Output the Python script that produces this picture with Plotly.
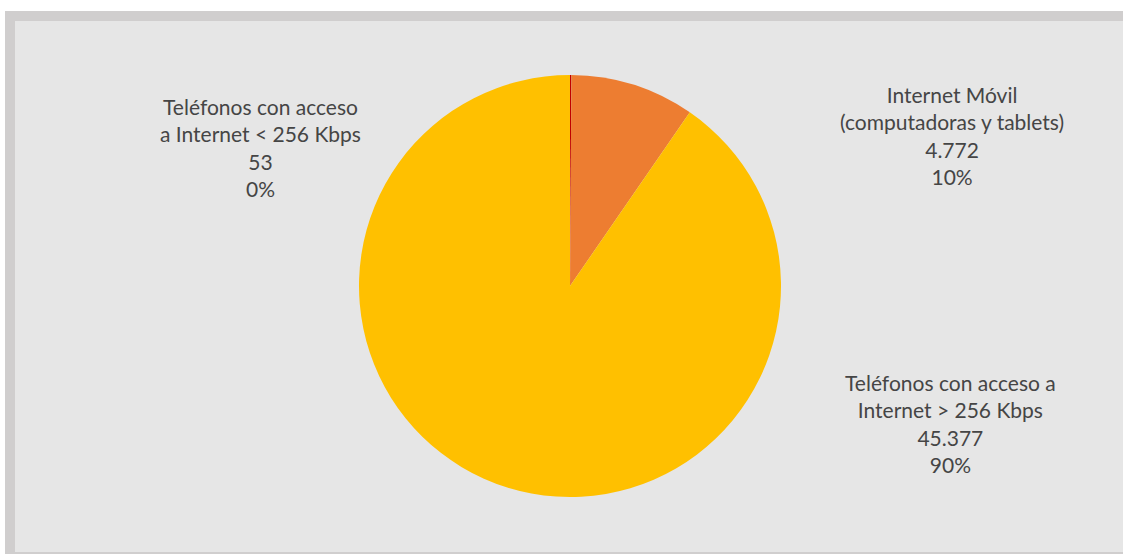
import plotly.graph_objects as go

categories = ["Teléfonos con acceso<br>a Internet < 256 Kbps",
              "Internet Móvil<br>(computadoras y tablets)",
              "Teléfonos con acceso a<br>Internet > 256 Kbps"]
values = [53, 4772, 45377]
colors = ["#C00000", "#ED7D31", "#FFC000"]

W, H = 1123, 554
total = sum(values)

def fmt(v):
    return f"{v:,}".replace(",", ".")

label_pos = [(260, 147), (952, 136), (950, 423)]  # pixel centers of label blocks

fig = go.Figure()
fig.add_trace(go.Pie(
    values=values,
    labels=categories,
    sort=False,
    direction="clockwise",
    rotation=0,
    marker=dict(colors=colors, line=dict(width=0)),
    textinfo="none",
    hoverinfo="label+value+percent",
    showlegend=False,
    domain=dict(x=[359 / W, 781 / W], y=[1 - 497 / H, 1 - 75 / H]),
))

annotations = []
for cat, v, (px, py) in zip(categories, values, label_pos):
    pct = round(100 * v / total)
    annotations.append(dict(
        x=px / W, y=1 - py / H, xref="paper", yref="paper",
        xanchor="center", yanchor="middle",
        text=f"{cat}<br>{fmt(v)}<br>{pct}%",
        showarrow=False, align="center",
        font=dict(family="Lato, Open Sans, sans-serif", size=21, color="#454545"),
    ))

shapes = [
    dict(type="rect", xref="paper", yref="paper",
         x0=5 / W, x1=1.01, y0=-0.01, y1=1 - 11 / H,
         fillcolor="#D0CECE", line=dict(width=0), layer="below"),
    dict(type="rect", xref="paper", yref="paper",
         x0=15 / W, x1=1.01, y0=1 - 552 / H, y1=1 - 21 / H,
         fillcolor="#E6E6E6", line=dict(width=0), layer="below"),
]

fig.update_layout(
    width=W, height=H,
    margin=dict(l=0, r=0, t=0, b=0),
    paper_bgcolor="white",
    plot_bgcolor="white",
    annotations=annotations,
    shapes=shapes,
)

fig.write_html("out.html", config={"displayModeBar": False},
               post_script="document.body.style.margin='0';document.body.style.overflow='hidden';")
